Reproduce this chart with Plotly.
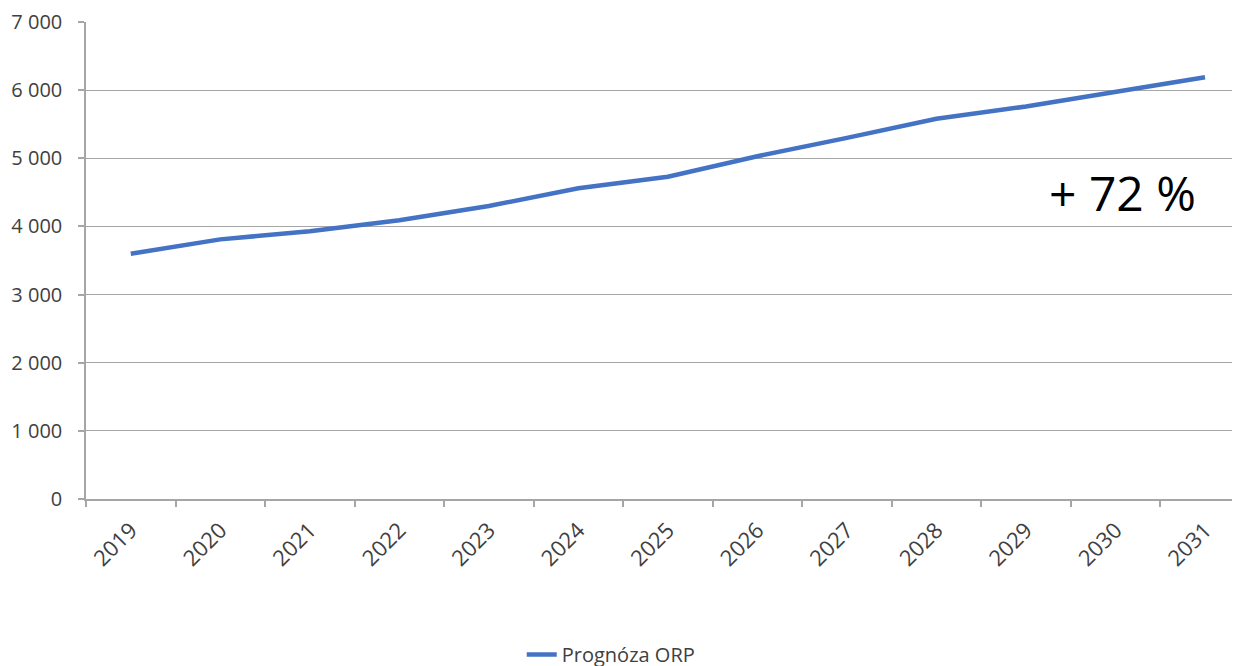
import plotly.graph_objects as go

years = ["2019", "2020", "2021", "2022", "2023", "2024", "2025",
         "2026", "2027", "2028", "2029", "2030", "2031"]
values = [3600, 3810, 3930, 4090, 4300, 4560, 4730, 5030, 5300, 5580, 5760, 5980, 6190]
series_name = "Prognóza ORP"
growth_label = "+ 72 %"
y_ticks = [0, 1000, 2000, 3000, 4000, 5000, 6000, 7000]

FONT = "Open Sans, Segoe UI, sans-serif"
GRID = "#A6A6A6"

fig = go.Figure()
fig.add_trace(go.Scatter(
    x=years, y=values, mode="lines", name=series_name,
    line=dict(color="#4472C4", width=4.5),
    showlegend=True,
))

fig.update_layout(
    width=1240, height=666,
    margin=dict(l=78, r=0, t=14, b=175),
    paper_bgcolor="white", plot_bgcolor="white",
    font=dict(family=FONT, size=19, color="#404040"),
    separators=", ",
    showlegend=True,
    legend=dict(orientation="h", x=0.375, xanchor="left", y=-0.327, yanchor="middle",
                font=dict(family=FONT, size=20, color="#404040"),
                bgcolor="rgba(0,0,0,0)"),
    xaxis=dict(
        type="category",
        range=[-0.5, 12.48],
        showgrid=False,
        showline=True, linecolor=GRID, linewidth=1.5,
        ticks="outside", tickson="boundaries", ticklen=6, tickcolor=GRID, tickwidth=1.5,
        tickangle=-45,
        ticklabelstandoff=8,
        tickfont=dict(family=FONT, size=22, color="#404040"),
    ),
    yaxis=dict(
        range=[0, 7000],
        tickvals=y_ticks,
        tickformat=",d",
        showgrid=True, gridcolor=GRID, gridwidth=1.2,
        showline=True, linecolor=GRID, linewidth=1.5,
        ticks="outside", ticklen=6, tickcolor=GRID, tickwidth=1.5,
        ticklabelstandoff=12,
        zeroline=False,
        tickfont=dict(family=FONT, size=20, color="#404040"),
    ),
    annotations=[dict(
        text=growth_label, xref="paper", yref="paper",
        x=0.8916, y=0.642, xanchor="center", yanchor="middle",
        showarrow=False,
        font=dict(family=FONT, size=48, color="#000000"),
    )],
)

fig.write_html("out.html")
